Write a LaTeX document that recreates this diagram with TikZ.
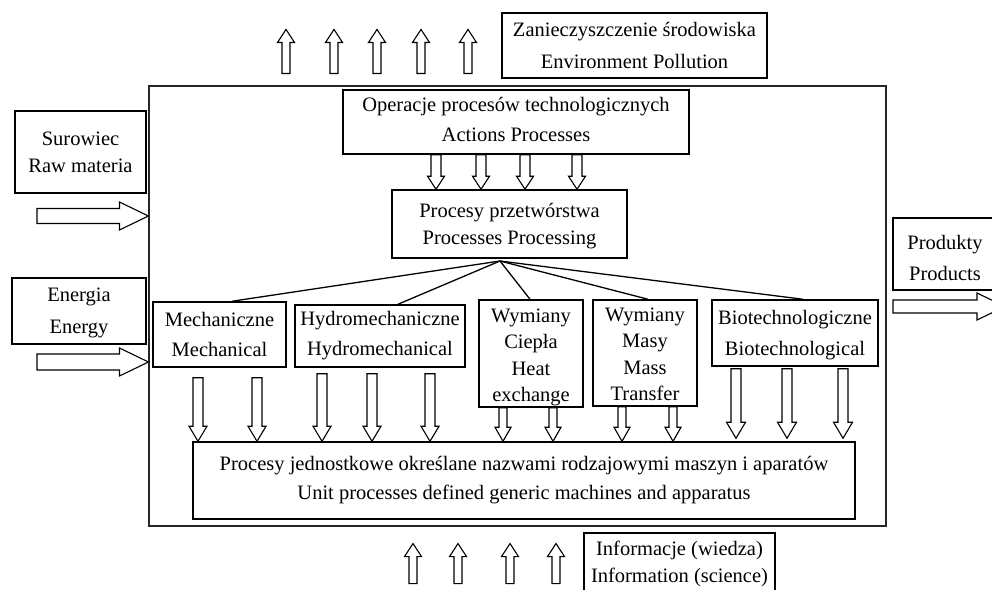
\documentclass[tikz,border=0pt]{standalone}
\usepackage{fontspec}
\setmainfont{Liberation Serif}
\usetikzlibrary{calc}
\tikzset{
  box/.style={draw=black, line width=1.5pt, fill=white, align=center, inner sep=0pt, font=\fontsize{20.5}{30}\selectfont},
  sysbox/.style={draw=black!85, line width=1.1pt},
  fanline/.style={draw=black, line width=1.3pt},
  blockline/.style={draw=black, line width=1.1pt, fill=white, line join=miter},
}
% block of centred lines, centred on the node and shifted up by #1
\newcommand\rlines[2]{\raisebox{\dimexpr#1-5pt\relax}[0pt][0pt]{\begin{tabular}{@{}c@{}}#2\end{tabular}}}
% block arrow: from, to, shaft half-width, head half-width, head length (pt)
\newcommand\blkarrow[5]{%
  \draw[blockline] let \p1=(#1), \p2=(#2),
    \n1={atan2(\y2-\y1,\x2-\x1)},
    \n2={veclen(\x2-\x1,\y2-\y1)-#5pt},
    \n3={#4-#3},
    \p3=($(\p1)+(\n1:\n2)+(\n1-90:#4pt)$) in
    (\p1) -- ++(\n1+90:#3pt) -- ++(\n1:\n2) -- ++(\n1+90:\n3 pt) -- (\p2)
    -- (\p3) -- ++(\n1+90:\n3 pt) -- ++(\n1+180:\n2) -- cycle;}
\begin{document}
\begin{tikzpicture}[x=1pt,y=-1pt]
\clip (0,0) rectangle (992,589);
\fill[white] (0,0) rectangle (992,589);
\node[sysbox, minimum width=737pt, minimum height=440pt] (sys) at (517.5,306) {};
\node[box, minimum width=265pt, minimum height=65pt, font=\fontsize{20.5}{32}\selectfont] (poll) at (634.5,45.5) {Zanieczyszczenie środowiska\\Environment Pollution};
\node[box, minimum width=346pt, minimum height=64pt] (op) at (516,122) {\rlines{1.5pt}{Operacje procesów technologicznych\\Actions Processes}};
\node[box, minimum width=235pt, minimum height=68pt, font=\fontsize{20.5}{27}\selectfont] (pp) at (509.5,224) {\rlines{-2pt}{Procesy przetwórstwa\\Processes Processing}};
\node[box, minimum width=133pt, minimum height=65pt] (mech) at (219.5,334.5) {Mechaniczne\\Mechanical};
\node[box, minimum width=170pt, minimum height=62pt] (hydro) at (380,336) {Hydromechaniczne\\Hydromechanical};
\node[box, minimum width=104pt, minimum height=107pt, font=\fontsize{20.5}{26.5}\selectfont] (heat) at (531,353.5) {\rlines{-3.5pt}{Wymiany\\Ciepła\\Heat\\exchange}};
\node[box, minimum width=104pt, minimum height=106pt, font=\fontsize{20.5}{26.5}\selectfont] (mass) at (645,353) {\rlines{-3pt}{Wymiany\\Masy\\Mass\\Transfer}};
\node[box, minimum width=166pt, minimum height=66pt, font=\fontsize{20.5}{31}\selectfont] (bio) at (795,333) {\rlines{-1pt}{Biotechnologiczne\\Biotechnological}};
\node[box, minimum width=662pt, minimum height=77pt, font=\fontsize{20.5}{29}\selectfont] (unit) at (524,480.5) {Procesy jednostkowe określane nazwami rodzajowymi maszyn i aparatów\\Unit processes defined generic machines and apparatus};
\node[box, minimum width=131pt, minimum height=82pt, font=\fontsize{20.5}{27}\selectfont] (raw) at (80.5,152) {Surowiec\\Raw materia};
\node[box, minimum width=134pt, minimum height=66pt, font=\fontsize{20.5}{32}\selectfont] (energy) at (79,311) {\rlines{0pt}{Energia\\Energy}};
\node[box, minimum width=104pt, minimum height=72pt, font=\fontsize{20.5}{31}\selectfont] (prod) at (945,254) {\rlines{-4.5pt}{Produkty\\Products}};
\node[box, minimum width=191pt, minimum height=61pt, font=\fontsize{20.5}{27}\selectfont] (info) at (679.5,563.5) {Informacje (wiedza)\\Information (science)};
% fan lines
\coordinate (fan) at (500,261);
\foreach \nd/\ax in {mech/232, hydro/398, heat/530, mass/648, bio/803}
  \draw[fanline] (fan) -- (\ax,0 |- \nd.north);
% top outgoing arrows
\foreach \ax in {286,334,377,421,468}
  \blkarrow{$(\ax,0 |- sys.north)+(0,-12)$}{$(\ax,0 |- sys.north)+(0,-56)$}{4}{8.5}{13};
% op -> pp
\foreach \ax in {436,481,525,577}
  \blkarrow{\ax,0 |- op.south}{\ax,0 |- pp.north}{5}{8.5}{13};
% into unit
\foreach \ax in {198,257}
  \blkarrow{$(\ax,0 |- mech.south)+(0,10)$}{\ax,0 |- unit.north}{5}{9}{15};
\foreach \ax in {322,372,430}
  \blkarrow{$(\ax,0 |- hydro.south)+(0,6)$}{\ax,0 |- unit.north}{5}{9}{15};
\foreach \ax in {503,553}
  \blkarrow{\ax,0 |- heat.south}{\ax,0 |- unit.north}{4}{8}{14};
\foreach \ax in {622,673}
  \blkarrow{\ax,0 |- mass.south}{\ax,0 |- unit.north}{4}{8}{14};
\foreach \ax in {736,787,843}
  \blkarrow{$(\ax,0 |- bio.south)+(0,2)$}{$(\ax,0 |- unit.north)+(0,-3)$}{5}{9.5}{16};
% side inputs / outputs
\blkarrow{37,216}{sys.west |- 0,216}{7.5}{14}{29};
\blkarrow{37,362}{sys.west |- 0,362}{8}{14}{29};
\blkarrow{893,306.5}{1005,306.5}{6.5}{13.5}{28};
% bottom incoming arrows
\foreach \ax in {413,458,510,556}
  \blkarrow{$(\ax,0 |- sys.south)+(0,57)$}{$(\ax,0 |- sys.south)+(0,17)$}{4}{8.5}{13};
\end{tikzpicture}
\end{document}
